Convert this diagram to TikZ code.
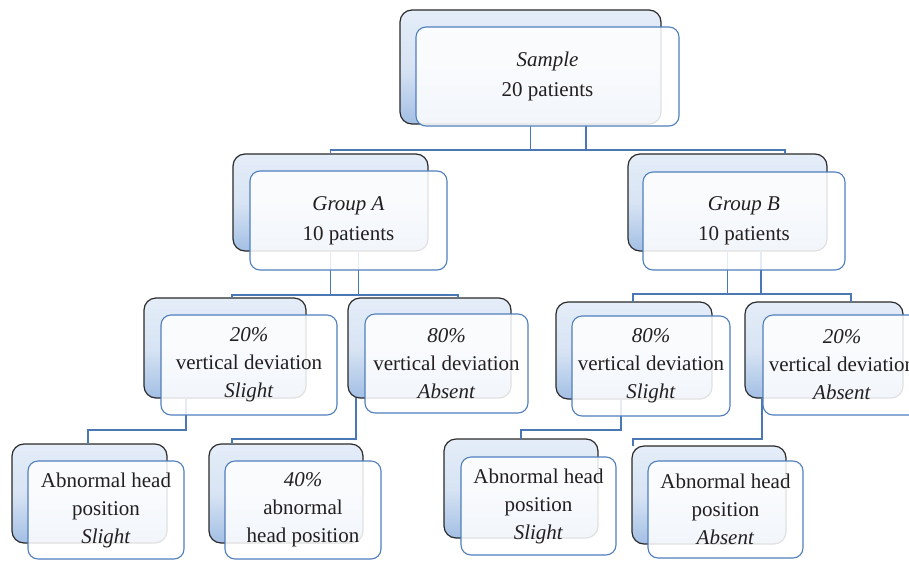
\documentclass[tikz,border=0pt]{standalone}
\usepackage{fontspec}
\setmainfont{Liberation Serif}
\usetikzlibrary{calc}
\definecolor{bbTop}{HTML}{E4EDF8}
\definecolor{bbMid}{HTML}{D8E4F4}
\definecolor{bbBot}{HTML}{A3BFE4}
\definecolor{bbLine}{HTML}{2A2A2A}
\definecolor{fbLine}{HTML}{4F7FBD}
\definecolor{connC}{HTML}{4A78B4}
\definecolor{txt}{HTML}{231F20}
\tikzset{
 backbox/.style={draw=bbLine, line width=1.2pt, rounded corners=12pt, top color=bbTop, bottom color=bbBot, middle color=bbMid, inner sep=0pt, outer sep=0pt},
 frontbox/.style={draw=fbLine, line width=1.1pt, rounded corners=10pt, fill=white, fill opacity=0.86, text opacity=1, inner sep=0pt, outer sep=0pt, align=center, text=txt, font=\fontsize{21}{28}\selectfont},
 topfont/.style={font=\fontsize{21}{30}\selectfont},
 conn/.style={draw=connC, line width=1.1pt},
}
\begin{document}
\begin{tikzpicture}[x=1pt,y=-1pt]
\useasboundingbox (0,0) rectangle (909,560);
\fill[white] (0,0) rectangle (909,560);
\clip (0,0) rectangle (909,560);
% back boxes
\node[backbox, minimum width=261pt, minimum height=114pt] (sB) at (530.5,67) {};
\node[backbox, minimum width=195pt, minimum height=97pt] (gAb) at (330.5,202.5) {};
\node[backbox, minimum width=199pt, minimum height=97pt] (gBb) at (727.5,202.5) {};
\node[backbox, minimum width=162pt, minimum height=100pt] (L1b) at (225,348) {};
\node[backbox, minimum width=163pt, minimum height=100pt] (L2b) at (429.5,348) {};
\node[backbox, minimum width=156pt, minimum height=97pt] (L3b) at (634,350.5) {};
\node[backbox, minimum width=158pt, minimum height=96pt] (L4b) at (824,350) {};
\node[backbox, minimum width=155pt, minimum height=99pt] (M1b) at (89.5,493.5) {};
\node[backbox, minimum width=154pt, minimum height=99pt] (M2b) at (286,493.5) {};
\node[backbox, minimum width=154pt, minimum height=99pt] (M3b) at (521,488.5) {};
\node[backbox, minimum width=154pt, minimum height=98pt] (M4b) at (709,495) {};
% connectors
\draw[conn] (sB.south) -- ++(0,26);
\draw[conn] ([xshift=55.5pt]sB.south) -- ++(0,26);
\draw[conn] (gAb.north) -- ++(0,-4) -| ([xshift=57.5pt]gBb.north);
\draw[conn] (gAb.south) -- ++(0,44);
\draw[conn] ([xshift=28pt]gAb.south) -- ++(0,44);
\draw[conn] ([xshift=7pt]L1b.north) -- ++(0,-3) -| ([xshift=28.5pt]L2b.north);
\draw[conn] (gBb.south) -- ++(0,43);
\draw[conn] ([xshift=33.5pt]gBb.south) -- ++(0,43);
\draw[conn] ([xshift=-1pt]L3b.north) -- ++(0,-8) -| ([xshift=27pt]L4b.north);
\draw[conn] ([xshift=-39pt]L1b.south) -- ++(0,32) -| ([xshift=-1.5pt]M1b.north);
\draw[conn] ([xshift=-73.5pt]L2b.south) -- ++(0,41) -| ([xshift=-54pt]M2b.north);
\draw[conn] ([xshift=-13pt]L3b.south) -- ++(0,31) -| (M3b.north);
\draw[conn] ([xshift=-62pt]L4b.south) -- ++(0,41) -| ([xshift=-76pt]M4b.north);
% front boxes
\node[frontbox, topfont, minimum width=263pt, minimum height=99pt] (s) at (547.5,76.5) {\textit{Sample}\\20 patients};
\node[frontbox, topfont, minimum width=197pt, minimum height=99pt] (gA) at (348.5,220.5) {\textit{Group A}\\10 patients};
\node[frontbox, topfont, minimum width=202pt, minimum height=98pt] (gB) at (744,221) {\textit{Group B}\\10 patients};
\node[frontbox, minimum width=176pt, minimum height=100pt] (L1) at (249,365) {\textit{20\%}\\vertical deviation\\\textit{Slight}};
\node[frontbox, minimum width=163pt, minimum height=99pt] (L2) at (446.5,363.5) {\textit{80\%}\\vertical deviation\\\textit{Absent}};
\node[frontbox, minimum width=158pt, minimum height=100pt] (L3) at (651,366) {\textit{80\%}\\vertical deviation\\\textit{Slight}};
\node[frontbox, minimum width=158pt, minimum height=100pt] (L4) at (842,365) {\textit{20\%}\\vertical deviation\\\textit{Absent}};
\node[frontbox, minimum width=156pt, minimum height=98pt] (M1) at (106,510) {Abnormal head\\position\\\textit{Slight}};
\node[frontbox, minimum width=156pt, minimum height=98pt] (M2) at (303,510) {\textit{40\%}\\abnormal\\head position};
\node[frontbox, minimum width=155pt, minimum height=98pt] (M3) at (538.5,506) {Abnormal head\\position\\\textit{Slight}};
\node[frontbox, minimum width=155pt, minimum height=97pt] (M4) at (725.5,509.5) {Abnormal head\\position\\\textit{Absent}};
\end{tikzpicture}
\end{document}
